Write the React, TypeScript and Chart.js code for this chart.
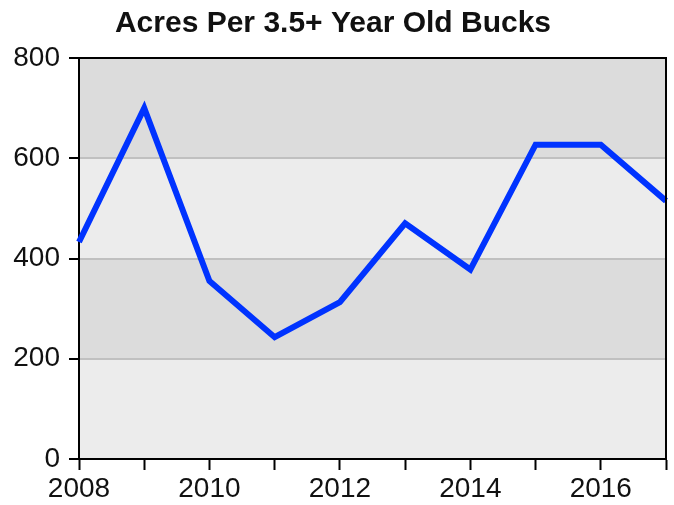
import React, { useEffect, useRef } from "react";
import { Chart, registerables } from "chart.js";

Chart.register(...registerables);

const years = ["2008", "2009", "2010", "2011", "2012", "2013", "2014", "2015", "2016", "2017"];
const acres = [433, 700, 355, 243, 313, 470, 378, 627, 627, 515];
const yTicks = [0, 200, 400, 600, 800];
const titleText = "Acres Per 3.5+ Year Old Bucks";

const bandsPlugin = {
  id: "bands",
  beforeDraw(chart: any) {
    const { ctx, chartArea, scales } = chart;
    const y = scales.y;
    ctx.save();
    for (let i = 0; i < yTicks.length - 1; i++) {
      const top = y.getPixelForValue(yTicks[i + 1]);
      const bottom = y.getPixelForValue(yTicks[i]);
      ctx.fillStyle = i % 2 === 0 ? "#ececec" : "#dcdcdc";
      ctx.fillRect(chartArea.left, top, chartArea.right - chartArea.left, bottom - top);
    }
    ctx.restore();
  },
  afterDatasetsDraw(chart: any) {
    const { ctx, chartArea } = chart;
    ctx.save();
    ctx.strokeStyle = "#000";
    ctx.lineWidth = 2;
    ctx.beginPath();
    ctx.moveTo(chartArea.left, chartArea.top);
    ctx.lineTo(chartArea.right, chartArea.top);
    ctx.lineTo(chartArea.right, chartArea.bottom);
    ctx.stroke();
    ctx.restore();
  },
};

export default function App() {
  const ref = useRef<HTMLCanvasElement>(null);
  useEffect(() => {
    document.body.style.margin = "0";
    const chart = new Chart(ref.current!, {
      type: "line",
      data: {
        labels: years,
        datasets: [
          {
            data: acres,
            borderColor: "#0033ff",
            borderWidth: 6,
            pointRadius: 0,
            tension: 0,
            borderJoinStyle: "miter",
          },
        ],
      },
      options: {
        responsive: false,
        animation: false,
        layout: { padding: { left: 0, right: 8, top: 0, bottom: 0 } },
        plugins: {
          legend: { display: false },
          tooltip: { enabled: false },
          title: {
            display: true,
            text: titleText,
            color: "#111",
            font: { family: "'Liberation Sans', Arial, sans-serif", size: 30, weight: "bold" },
            padding: { top: 6, bottom: 16 },
          },
        },
        scales: {
          x: {
            type: "category",
            offset: false,
            afterFit(scale: any) {
              scale.height = 46;
            },
            grid: {
              drawOnChartArea: false,
              tickLength: 11,
              tickWidth: 2,
              tickColor: "#000",
            },
            border: { color: "#000", width: 2 },
            ticks: {
              autoSkip: false,
              maxRotation: 0,
              padding: 2,
              color: "#111",
              font: { family: "'Liberation Sans', Arial, sans-serif", size: 28 },
              callback: (_v: any, i: number) => (i % 2 === 0 ? years[i] : ""),
            },
          },
          y: {
            min: 0,
            max: 800,
            afterFit(scale: any) {
              scale.width = 79;
            },
            grid: {
              color: "#c0c0c0",
              lineWidth: 2,
              tickLength: 10,
              tickWidth: 2,
              tickColor: "#000",
            },
            border: { color: "#000", width: 2 },
            ticks: {
              stepSize: 200,
              padding: 9,
              color: "#111",
              font: { family: "'Liberation Sans', Arial, sans-serif", size: 28 },
            },
          },
        },
      },
      plugins: [bandsPlugin],
    } as any);
    return () => chart.destroy();
  }, []);
  return (
    <div style={{ width: 674, height: 505 }}>
      <canvas ref={ref} width={674} height={505} />
    </div>
  );
}
